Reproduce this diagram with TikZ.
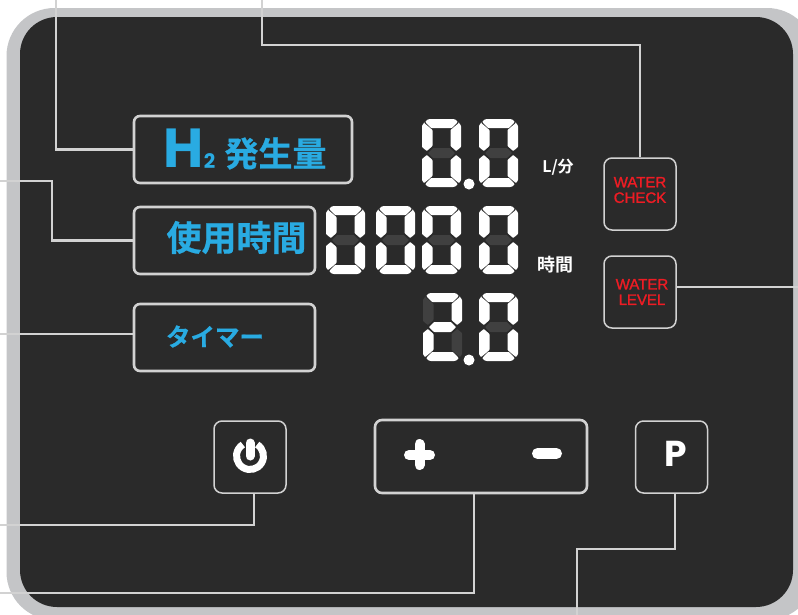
\documentclass[tikz,border=0pt]{standalone}
\usepackage{fontspec}
\setmainfont{Noto Sans}
\newfontfamily\jpfont{Noto Sans CJK JP Bold}[FakeBold=0.6]
\newfontfamily\jpwhite{Noto Sans CJK JP Bold}
\newfontfamily\latinbold{Poppins}[BoldFont={Poppins Bold}]
\newfontfamily\redfont{Liberation Sans}[FakeBold=1.5]
\definecolor{panel}{HTML}{2A2A2A}
\definecolor{rim}{HTML}{C4C5C7}
\definecolor{wire}{HTML}{D2D2D2}
\definecolor{labelblue}{HTML}{29ABE2}
\definecolor{labelred}{HTML}{ED1C24}
\definecolor{segon}{HTML}{FFFFFF}
\definecolor{segoff}{HTML}{404040}
\tikzset{
  lcdbox/.style={draw=wire,line width=2.6pt,rounded corners=6pt,inner sep=0pt,fill=panel},
  keybox/.style={draw=wire,line width=1.5pt,rounded corners=8pt,inner sep=0pt,fill=panel,minimum width=72pt,minimum height=72pt},
  conn/.style={draw=wire,line width=2.8pt},
  thinconn/.style={draw=wire,line width=2.3pt},
  bluetext/.style={text=labelblue,inner sep=0pt,font=\jpfont\fontsize{34}{34}\selectfont},
  whitetext/.style={text=white,inner sep=0pt,font=\jpwhite\fontsize{18}{18}\selectfont},
  redtext/.style={text=labelred,inner sep=0pt,align=center,font=\redfont\fontsize{15}{15.5}\selectfont},
  icon/.style={draw=white,line cap=round},
  segpoly/.style={rounded corners=0.7pt,draw=none}
}
\newcommand{\sevenseg}[9]{%
  \begin{scope}[shift={(#1,#2)}]
    \fill[segpoly,fill=#3] (3.3,3) .. controls (4.5,1.2) and (6,0) .. (8.5,0) -- (30.5,0) .. controls (33,0) and (34.5,1.2) .. (35.7,3) -- (30,9) -- (9,9) -- cycle;
    \fill[segpoly,fill=#4] (2.2,4) -- (10.5,11) -- (10.5,27) -- (4.8,32) -- (0,28) -- (0,8) .. controls (0,6.5) and (1,5) .. (2.2,4) -- cycle;
    \fill[segpoly,fill=#5] (36.8,4) -- (28.5,11) -- (28.5,27) -- (34.2,32) -- (39,28) -- (39,8) .. controls (39,6.5) and (38,5) .. (36.8,4) -- cycle;
    \fill[segpoly,fill=#6] (6,34) -- (11,29) -- (28,29) -- (33,34) -- (28,39) -- (11,39) -- cycle;
    \fill[segpoly,fill=#7] (0,40) -- (4.8,36) -- (10.5,41) -- (10.5,57) -- (2.2,64) .. controls (1,63) and (0,61.5) .. (0,60) -- cycle;
    \fill[segpoly,fill=#8] (39,40) -- (34.2,36) -- (28.5,41) -- (28.5,57) -- (36.8,64) .. controls (38,63) and (39,61.5) .. (39,60) -- cycle;
    \fill[segpoly,fill=#9] (9,59) -- (30,59) -- (35.7,65) .. controls (34.5,66.8) and (33,68) .. (30.5,68) -- (8.5,68) .. controls (6,68) and (4.5,66.8) .. (3.3,65) -- cycle;
  \end{scope}}
\newcommand{\eightdark}[2]{\sevenseg{#1}{#2}{segon}{segon}{segon}{segoff}{segon}{segon}{segon}}
\begin{document}
\begin{tikzpicture}[x=1pt,y=-1pt]
\useasboundingbox (0,0) rectangle (798,614);
\fill[white] (0,0) rectangle (798,614);
\begin{scope}
\clip (0,0) rectangle (798,614);
\fill[rim,rounded corners=48pt] (6.5,8) rectangle (815,620);
\fill[panel,rounded corners=37pt] (20,17) rectangle (793,607);
\end{scope}

% boxes
\node[lcdbox,minimum width=218pt,minimum height=67pt] (hbox) at (243,149.5) {};
\node[lcdbox,minimum width=181pt,minimum height=67pt] (ubox) at (224.5,240.5) {};
\node[lcdbox,minimum width=181pt,minimum height=67pt] (tbox) at (224.5,337.5) {};
\node[keybox] (cbox) at (640,194) {};
\node[keybox] (lbox) at (640,292) {};
\node[keybox] (pwbox) at (250,457) {};
\node[lcdbox,rounded corners=7pt,minimum width=212pt,minimum height=73pt] (pmbox) at (481,456.5) {};
\node[keybox] (pbox) at (671.5,457) {};

% free ends
\coordinate (hend) at (56,-2);
\coordinate (cend) at (262,-2);
\coordinate (cturn) at (640,45);
\coordinate (uend) at (-2,181);
\coordinate (uturn) at (52,240.5);
\coordinate (tend) at (-2,334);
\coordinate (lend) at (800,287);
\coordinate (pwend) at (-2,525);
\coordinate (pmend) at (-2,593);
\coordinate (pturn) at (577,549);
\coordinate (pend) at (577,616);

% connectors
\draw[conn] (hbox.west) -| (hend);
\draw[conn] (cbox.north) -- (cturn) -| (cend);
\draw[conn] (ubox.west) -- (uturn) |- (uend);
\draw[conn] (tbox.west |- tend) -- (tend);
\draw[conn] (lbox.east |- lend) -- (lend);
\draw[conn] ([xshift=4pt]pwbox.south) |- (pwend);
\draw[conn] ([xshift=-7pt]pmbox.south) |- (pmend);
\draw[thinconn] ([xshift=3.5pt]pbox.south) |- (pturn) -- (pend);

% labels
\node[text=labelblue,inner sep=0pt,font=\latinbold\bfseries\fontsize{55}{55}\selectfont] (hlabel) at (183.5,148) {H};
\node[text=labelblue,inner sep=0pt,font=\latinbold\bfseries\fontsize{20}{20}\selectfont] (htwo) at (209.5,161) {2};
\node[bluetext] (hjp) at (275.5,153.5) {発生量};
\node[bluetext,font=\jpfont\fontsize{35}{35}\selectfont] (ujp) at (236.5,237.5) {使用時間};
\node[bluetext,font=\jpfont\fontsize{24.5}{24.5}\selectfont] (tjp) at (215,336.5) {タイマー};
\node[whitetext,font=\jpwhite\fontsize{16}{16}\selectfont] (rate) at (558,167.5) {L/分};
\node[whitetext] (hours) at (555,264.5) {時間};
\node[redtext] (ctext) at (640,190) {WATER\\CHECK};
\node[redtext] (ltext) at (642,292) {WATER\\LEVEL};
\node[text=white,inner sep=0pt,font=\latinbold\bfseries\fontsize{36}{36}\selectfont] (ptext) at (675.5,454) {P};

% digits
\eightdark{422}{119}
\eightdark{479}{119}
\fill[white] (469,184) circle (5.5);
\eightdark{326}{206}
\eightdark{376}{206}
\eightdark{422}{206}
\eightdark{479}{206}
\sevenseg{423}{293}{segon}{segoff}{segon}{segon}{segon}{segoff}{segon}
\eightdark{479}{293}
\fill[white] (469,360) circle (5.5);

% icons
\draw[icon,line width=7pt,line cap=butt] (250,456) ++(-58:13.5) arc[start angle=-58,end angle=238,radius=13.5];
\draw[icon,line width=9pt] (250,443) -- (250,456);
\draw[icon,line width=10pt] (409,455) -- (430,455) (419.5,444) -- (419.5,465);
\draw[icon,line width=11pt] (537.5,453.5) -- (556.5,453.5);
\end{tikzpicture}
\end{document}
